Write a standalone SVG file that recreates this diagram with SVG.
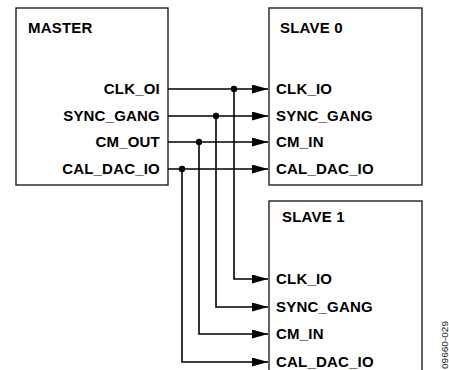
<svg xmlns="http://www.w3.org/2000/svg" width="449" height="370" viewBox="0 0 449 370">
<style>
.box{fill:#fff;stroke:#231f20;stroke-width:1.4}
.t{font-family:"Liberation Sans",Arial,sans-serif;font-weight:bold;font-size:15px;fill:#000;letter-spacing:0.2px}
.r{text-anchor:end}
.w{fill:none;stroke:#000;stroke-width:1.6}
.d{fill:#000}
.fig{font-family:"Liberation Sans",Arial,sans-serif;font-size:8.5px;fill:#231f20}
</style>
<defs>
<marker id="ah" markerWidth="16" markerHeight="9" refX="16" refY="4.5" orient="auto" markerUnits="userSpaceOnUse">
<path d="M0,0 L16,4.5 L0,9 Z" fill="#000"/>
</marker>
</defs>
<g id="master">
<rect class="box" x="16" y="8" width="152" height="177"/>
<text class="t" x="28" y="33">MASTER</text>
<text class="t r" x="160" y="94">CLK_OI</text>
<text class="t r" x="160" y="121">SYNC_GANG</text>
<text class="t r" x="160" y="147">CM_OUT</text>
<text class="t r" x="160" y="174">CAL_DAC_IO</text>
</g>
<g id="slave0">
<rect class="box" x="269" y="8" width="153" height="177"/>
<text class="t" x="280" y="33">SLAVE 0</text>
<text class="t" x="276" y="94">CLK_IO</text>
<text class="t" x="276" y="121">SYNC_GANG</text>
<text class="t" x="276" y="147">CM_IN</text>
<text class="t" x="276" y="174">CAL_DAC_IO</text>
</g>
<g id="slave1">
<rect class="box" x="269" y="201" width="153" height="180"/>
<text class="t" x="282" y="222">SLAVE 1</text>
<text class="t" x="276" y="284">CLK_IO</text>
<text class="t" x="276" y="312">SYNC_GANG</text>
<text class="t" x="276" y="339">CM_IN</text>
<text class="t" x="276" y="367">CAL_DAC_IO</text>
</g>
<g id="connectors">
<path class="w" marker-end="url(#ah)" d="M168,89 H268"/>
<path class="w" marker-end="url(#ah)" d="M168,116 H268"/>
<path class="w" marker-end="url(#ah)" d="M168,142 H268"/>
<path class="w" marker-end="url(#ah)" d="M168,169 H268"/>
<path class="w" marker-end="url(#ah)" d="M234,89 V279 H268"/>
<path class="w" marker-end="url(#ah)" d="M216,116 V307 H268"/>
<path class="w" marker-end="url(#ah)" d="M199,142 V334 H268"/>
<path class="w" marker-end="url(#ah)" d="M182,169 V362 H268"/>
<circle class="d" cx="234" cy="89" r="3.2"/>
<circle class="d" cx="216" cy="116" r="3.2"/>
<circle class="d" cx="199" cy="142" r="3.2"/>
<circle class="d" cx="182" cy="169" r="3.2"/>
</g>
<text class="fig" transform="translate(448,369) rotate(-90)" textLength="48" lengthAdjust="spacingAndGlyphs">09660-029</text>
</svg>
